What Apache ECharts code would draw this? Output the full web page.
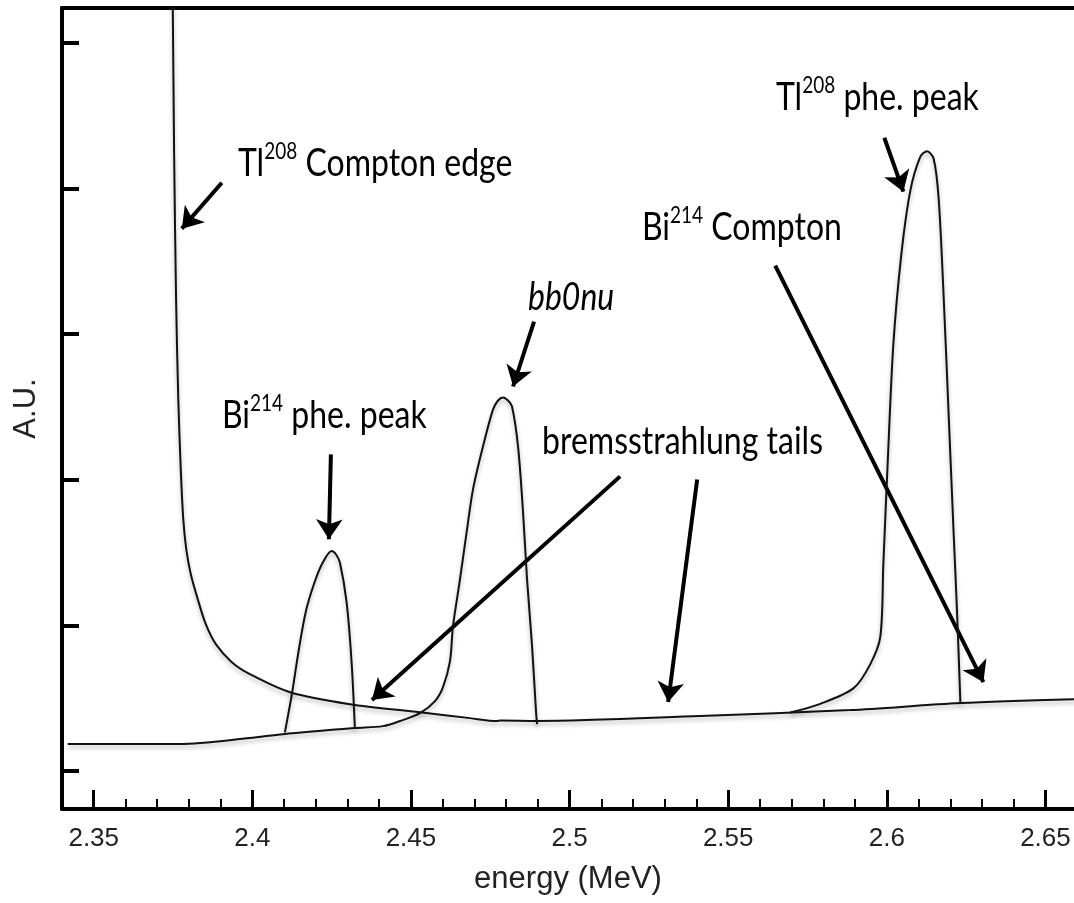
<!DOCTYPE html>
<html>
<head>
<meta charset="utf-8">
<script src="https://cdn.jsdelivr.net/npm/echarts@6/dist/echarts.min.js"></script>
<style>
  html, body { margin: 0; padding: 0; background: #fff; }
  #chart { width: 1074px; height: 903px; }
</style>
</head>
<body>
<div id="chart"></div>
<script>
// axis ticks
const xMajorTicks = [2.35, 2.4, 2.45, 2.5, 2.55, 2.6, 2.65]
const xMinorTicks = [2.36, 2.37, 2.38, 2.39, 2.41, 2.42, 2.43, 2.44, 2.46, 2.47, 2.48, 2.49,
  2.51, 2.52, 2.53, 2.54, 2.56, 2.57, 2.58, 2.59, 2.61, 2.62, 2.63, 2.64]
const yTicks = [0, 1, 2, 3, 4, 5]

// Tl208 Compton edge running into the continuum
const comptonE = [2.37483, 2.37492, 2.37533, 2.37596, 2.37666, 2.37744, 2.37823, 2.37918, 2.38060,
  2.38281, 2.38533, 2.38849, 2.39353, 2.39921, 2.41183, 2.43076, 2.45284, 2.46861,
  2.47713, 2.47808, 2.48975, 2.54117, 2.58849, 2.62319, 2.66]
const comptonA = [5.3, 5.241, 4.267, 3.238, 2.552, 2.072, 1.729, 1.523, 1.352,
  1.180, 1.009, 0.872, 0.748, 0.666, 0.542, 0.460, 0.405, 0.364,
  0.344, 0.347, 0.344, 0.378, 0.419, 0.467, 0.494]

// flat background + bb0nu peak
const bb0nuE = [2.3418, 2.37713, 2.39921, 2.40962, 2.43233, 2.44117, 2.44653, 2.45284, 2.45757,
  2.4601, 2.4623, 2.46325, 2.46546, 2.46767, 2.46956, 2.47271, 2.47587, 2.47745, 2.47902,
  2.4806, 2.48186, 2.48375, 2.48533, 2.48659, 2.48817, 2.48943, 2.48975]
const bb0nuA = [0.186, 0.186, 0.227, 0.254, 0.296, 0.309, 0.344, 0.398, 0.481,
  0.577, 0.755, 0.995, 1.318, 1.660, 1.935, 2.230, 2.484, 2.545, 2.566,
  2.545, 2.504, 2.230, 1.777, 1.318, 0.858, 0.405, 0.323]

// Bi214 photo peak
const biPeakE = [2.41025, 2.41246, 2.41467, 2.41688, 2.41940, 2.42192, 2.42498, 2.42634,
  2.4276, 2.42972, 2.43129, 2.43233]
const biPeakA = [0.266, 0.529, 0.837, 1.098, 1.283, 1.420, 1.512, 1.489,
  1.432, 1.158, 0.746, 0.289]

// Tl208 photo peak
const tlPeakE = [2.56956, 2.57902, 2.58953, 2.5948, 2.59795, 2.5989, 2.60032, 2.60205, 2.60457,
  2.60741, 2.61057, 2.61268, 2.61476, 2.61634, 2.61792, 2.6195, 2.62107, 2.62215, 2.62319]
const tlPeakA = [0.402, 0.462, 0.570, 0.735, 0.923, 1.420, 2.141, 2.929, 3.547,
  3.986, 4.219, 4.257, 4.205, 3.932, 3.254, 2.442, 1.628, 1.086, 0.467]

// annotation arrows [from, to]
const arrows = [
  [[2.39038, 4.040], [2.37776, 3.725]],
  [[2.42476, 2.175], [2.42413, 1.592]],
  [[2.48880, 3.087], [2.48218, 2.641]],
  [[2.59921, 4.349], [2.60521, 3.979]],
  [[2.56483, 3.471], [2.63044, 0.611]],
  [[2.51593, 2.024], [2.43770, 0.488]],
  [[2.54022, 2.003], [2.53107, 0.474]]
]

const zip = (xs, ys) => xs.map((x, i) => [x, ys[i]])

const chart = echarts.init(document.getElementById('chart'))

const curveStyle = {
  color: '#111',
  width: 2,
  shadowColor: 'rgba(0,0,0,0.3)',
  shadowBlur: 4,
  shadowOffsetY: 3,
}

function curve(data) {
  return {
    type: 'line',
    data,
    showSymbol: false,
    smooth: 0.3,
    lineStyle: curveStyle,
    clip: true,
  }
}

const annoFont = 'Lato, "Open Sans", sans-serif'
const rich = {
  t: { fontFamily: annoFont, fontSize: 32, color: '#333', lineHeight: 40 },
  s: { fontFamily: annoFont, fontSize: 19, color: '#333', lineHeight: 32, verticalAlign: 'top' },
  i: { fontFamily: annoFont, fontSize: 32, color: '#333', lineHeight: 40, fontStyle: 'italic' },
}

function label(x, y, text) {
  return {
    type: 'text',
    x, y,
    scaleY: 1.2,
    style: { text, rich, align: 'left', verticalAlign: 'top' },
  }
}

const axisFont = '"Liberation Sans", Arial, sans-serif'

chart.setOption({
  animation: false,
  backgroundColor: '#fff',
  grid: { left: 62, right: 0, top: 8, bottom: 94 },
  xAxis: [
    {
      type: 'value', min: 2.34, max: 2.659,
      position: 'bottom',
      name: 'energy (MeV)', nameLocation: 'middle', nameGap: 55,
      nameTextStyle: { fontFamily: axisFont, fontSize: 31, color: '#222' },
      axisLine: { onZero: false, lineStyle: { color: '#000', width: 4 } },
      axisTick: { inside: true, length: 19, lineStyle: { color: '#000', width: 3 }, customValues: xMajorTicks },
      axisLabel: { fontFamily: axisFont, fontSize: 26, color: '#222', margin: 17, customValues: xMajorTicks },
      splitLine: { show: false },
    },
    {
      type: 'value', min: 2.34, max: 2.659,
      position: 'bottom',
      axisLine: { show: false, onZero: false },
      axisTick: { inside: true, length: 10, lineStyle: { color: '#000', width: 2 }, customValues: xMinorTicks },
      axisLabel: { show: false },
      splitLine: { show: false },
    },
    {
      type: 'value', min: 2.34, max: 2.659,
      position: 'top',
      axisLine: { onZero: false, lineStyle: { color: '#000', width: 4 } },
      axisTick: { show: false },
      axisLabel: { show: false },
      splitLine: { show: false },
    },
  ],
  yAxis: {
    type: 'value', min: -0.26, max: 5.24,
    name: 'A.U.', nameLocation: 'middle', nameGap: 20,
    nameTextStyle: { fontFamily: axisFont, fontSize: 31, color: '#222' },
    axisLine: { onZero: false, lineStyle: { color: '#000', width: 4 } },
    axisTick: { inside: true, length: 17, lineStyle: { color: '#000', width: 4 }, customValues: yTicks },
    axisLabel: { show: false },
    splitLine: { show: false },
  },
  series: [
    curve(zip(comptonE, comptonA)),
    curve(zip(bb0nuE, bb0nuA)),
    curve(zip(biPeakE, biPeakA)),
    curve(zip(tlPeakE, tlPeakA)),
    {
      type: 'lines',
      coordinateSystem: 'cartesian2d',
      symbol: ['none', 'arrow'],
      symbolSize: [16, 20],
      lineStyle: { color: '#000', width: 4, opacity: 1 },
      data: arrows.map(a => ({ coords: a })),
    },
  ],
  graphic: [
    label(238, 140, '{t|Tl}{s|208}{t| Compton edge}'),
    label(776, 74, '{t|Tl}{s|208}{t| phe. peak}'),
    label(642, 204, '{t|Bi}{s|214}{t| Compton}'),
    label(528, 274, '{i|bb0nu}'),
    label(222, 392, '{t|Bi}{s|214}{t| phe. peak}'),
    label(542, 418, '{t|bremsstrahlung tails}'),
  ],
})
</script>
</body>
</html>
